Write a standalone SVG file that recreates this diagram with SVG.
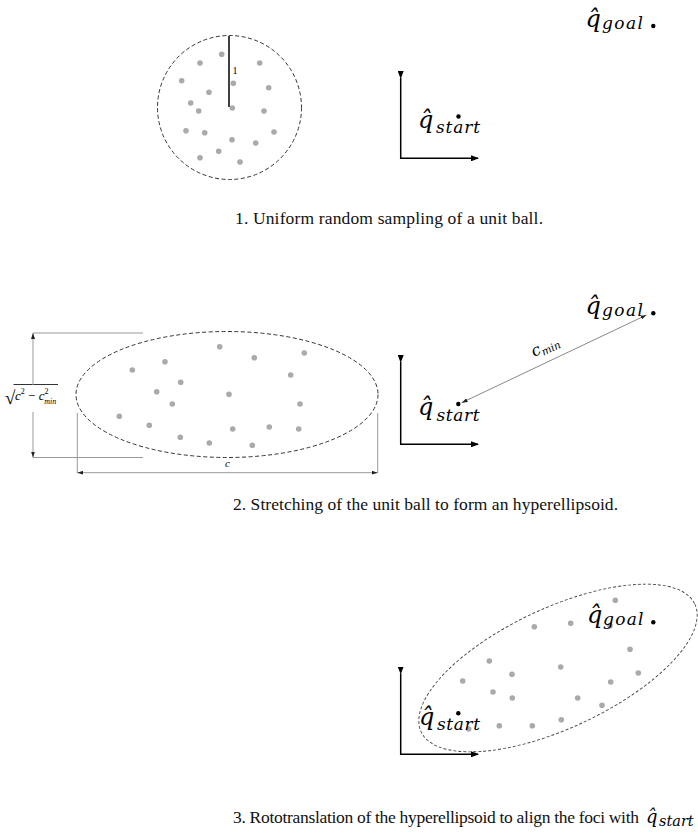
<svg xmlns="http://www.w3.org/2000/svg" width="698" height="833" viewBox="0 0 698 833">
<style>
.dot{fill:#aaaaaa}
.pt{fill:#000}
.bnd{fill:none;stroke:#333;stroke-width:1;stroke-dasharray:4 2.5}
.axis{fill:none;stroke:#000;stroke-width:1.5}
.dim{fill:none;stroke:#999;stroke-width:1}
.cap{font-family:"Liberation Serif",serif;font-size:17.5px;fill:#111}
.m{font-family:"DejaVu Serif",serif;font-style:italic;fill:#000}
.q{font-size:24px}
.s{font-size:17px}
</style>
<defs>
<marker id="ax" viewBox="0 0 8 6" refX="7" refY="3" markerWidth="8" markerHeight="6" markerUnits="userSpaceOnUse" orient="auto"><path d="M0,0 L8,3 L0,6 Z" fill="#000"/></marker>
<marker id="dm" viewBox="0 0 6 4" refX="6" refY="2" markerWidth="6" markerHeight="4" markerUnits="userSpaceOnUse" orient="auto-start-reverse"><path d="M0,0 L6,2 L0,4 Z" fill="#222"/></marker>
</defs>

<g id="panel1">
<g id="unit-ball">
<circle class="bnd" cx="229.5" cy="107.5" r="72"/>
<line x1="229" y1="36" x2="229" y2="107" stroke="#000" stroke-width="1.5"/>
<text x="232.5" y="73.5" font-family="Liberation Serif,serif" font-size="10">1</text>
<circle class="dot" cx="221.7" cy="54.3" r="2.8"/><circle class="dot" cx="200" cy="63" r="2.8"/><circle class="dot" cx="259.7" cy="63" r="2.8"/>
<circle class="dot" cx="181.7" cy="80.7" r="2.8"/><circle class="dot" cx="233.3" cy="83.3" r="2.8"/><circle class="dot" cx="268.7" cy="87.7" r="2.8"/>
<circle class="dot" cx="209" cy="92.3" r="2.8"/><circle class="dot" cx="190.7" cy="103" r="2.8"/><circle class="dot" cx="198.7" cy="111" r="2.8"/>
<circle class="dot" cx="232.3" cy="108" r="2.8"/><circle class="dot" cx="264" cy="111" r="2.8"/><circle class="dot" cx="186" cy="130.7" r="2.8"/>
<circle class="dot" cx="204.7" cy="132.7" r="2.8"/><circle class="dot" cx="274" cy="132" r="2.8"/><circle class="dot" cx="232" cy="139.7" r="2.8"/>
<circle class="dot" cx="255.7" cy="143" r="2.8"/><circle class="dot" cx="218.7" cy="151.3" r="2.8"/><circle class="dot" cx="200" cy="157.7" r="2.8"/>
<circle class="dot" cx="240" cy="162" r="2.8"/>
</g>
<g id="start1"><circle class="pt" cx="458.5" cy="116.5" r="2.2"/><text class="m q" x="418" y="127.5">q̂</text><text class="m s" x="436" y="133" textLength="44" lengthAdjust="spacing">start</text></g>
<g id="goal1"><circle class="pt" cx="653.3" cy="26" r="2.2"/><text class="m q" x="585.5" y="27">q̂</text><text class="m s" x="602" y="29" textLength="41" lengthAdjust="spacing">goal</text></g>
<text id="caption1" class="cap" x="235" y="224" textLength="308" lengthAdjust="spacing">1. Uniform random sampling of a unit ball.</text>
</g>

<g id="panel2">
<g id="hyperellipsoid">
<ellipse class="bnd" cx="227" cy="394.5" rx="151" ry="63"/>
<circle class="dot" cx="132.3" cy="370" r="2.8"/><circle class="dot" cx="165" cy="361.7" r="2.8"/><circle class="dot" cx="180.7" cy="382.3" r="2.8"/>
<circle class="dot" cx="156.7" cy="391.7" r="2.8"/><circle class="dot" cx="172.3" cy="404" r="2.8"/><circle class="dot" cx="119.3" cy="416.3" r="2.8"/>
<circle class="dot" cx="149.3" cy="425.3" r="2.8"/><circle class="dot" cx="180.3" cy="437.3" r="2.8"/><circle class="dot" cx="219.7" cy="346.7" r="2.8"/>
<circle class="dot" cx="254.3" cy="357.7" r="2.8"/><circle class="dot" cx="304.3" cy="353" r="2.8"/><circle class="dot" cx="290.7" cy="375" r="2.8"/>
<circle class="dot" cx="229" cy="394.3" r="2.8"/><circle class="dot" cx="300" cy="404" r="2.8"/><circle class="dot" cx="232.7" cy="429" r="2.8"/>
<circle class="dot" cx="269.3" cy="427" r="2.8"/><circle class="dot" cx="298.7" cy="429" r="2.8"/><circle class="dot" cx="209.3" cy="443" r="2.8"/>
<circle class="dot" cx="252.3" cy="445.3" r="2.8"/>
</g>
<g id="dim-labels">
<text x="5" y="404" font-family="Liberation Serif,serif" font-size="19">√</text>
<line x1="13.5" y1="384.5" x2="58" y2="384.5" stroke="#000" stroke-width="0.8"/>
<text x="15" y="400" font-family="Liberation Serif,serif" font-size="13"><tspan font-style="italic">c</tspan><tspan font-size="8" dy="-6">2</tspan><tspan dy="6"> − </tspan><tspan font-style="italic">c</tspan><tspan font-size="8" dy="-6">2</tspan><tspan font-size="8" font-style="italic" dx="-4.2" dy="10">min</tspan></text>
<text x="225" y="467" font-family="Liberation Serif,serif" font-size="11" font-style="italic">c</text>
<text class="m" x="534" y="357" transform="rotate(-25.4 534 357)" font-size="16">c<tspan font-size="10.5" dy="3">min</tspan></text>
</g>
<g id="start2"><circle class="pt" cx="458.3" cy="404" r="2.2"/><text class="m q" x="418" y="414.5">q̂</text><text class="m s" x="436.5" y="420.5" textLength="43" lengthAdjust="spacing">start</text></g>
<g id="goal2"><circle class="pt" cx="653.3" cy="313.3" r="2.2"/><text class="m q" x="585.5" y="314">q̂</text><text class="m s" x="602" y="315.5" textLength="41" lengthAdjust="spacing">goal</text></g>
<text id="caption2" class="cap" x="233" y="510" textLength="385" lengthAdjust="spacing">2. Stretching of the unit ball to form an hyperellipsoid.</text>
</g>

<g id="panel3">
<g id="rotated-ellipsoid">
<ellipse cx="558" cy="668" rx="151" ry="60" transform="rotate(-25 558 668)" fill="none" stroke="#444" stroke-width="0.9" stroke-dasharray="3 2"/>
<circle class="dot" cx="615.3" cy="600.3" r="2.8"/><circle class="dot" cx="534.3" cy="626.7" r="2.8"/><circle class="dot" cx="570.7" cy="623.3" r="2.8"/>
<circle class="dot" cx="610" cy="625.7" r="2.8"/><circle class="dot" cx="630" cy="649.3" r="2.8"/><circle class="dot" cx="489.3" cy="661" r="2.8"/>
<circle class="dot" cx="560.7" cy="667" r="2.8"/><circle class="dot" cx="512" cy="674.3" r="2.8"/><circle class="dot" cx="638.3" cy="673" r="2.8"/>
<circle class="dot" cx="462.7" cy="681" r="2.8"/><circle class="dot" cx="610.7" cy="682" r="2.8"/><circle class="dot" cx="493" cy="692" r="2.8"/>
<circle class="dot" cx="512.3" cy="698" r="2.8"/><circle class="dot" cx="577.7" cy="698" r="2.8"/><circle class="dot" cx="602" cy="705.3" r="2.8"/>
<circle class="dot" cx="561.3" cy="719.7" r="2.8"/><circle class="dot" cx="499.3" cy="725.7" r="2.8"/><circle class="dot" cx="532.3" cy="725.7" r="2.8"/>
<circle class="dot" cx="468.7" cy="729" r="2.8"/>
</g>
<g id="start3"><circle class="pt" cx="458.3" cy="713.3" r="2.2"/><text class="m q" x="419" y="724.5">q̂</text><text class="m s" x="437" y="730" textLength="43" lengthAdjust="spacing">start</text></g>
<g id="goal3"><circle class="pt" cx="653.3" cy="622.3" r="2.2"/><text class="m q" x="587" y="623">q̂</text><text class="m s" x="603" y="625" textLength="40.5" lengthAdjust="spacing">goal</text></g>
<g id="caption3">
<text class="cap" x="233" y="823" textLength="406" lengthAdjust="spacing">3. Rototranslation of the hyperellipsoid to align the foci with</text>
<text class="m" x="646" y="823" font-size="18">q̂</text>
<text class="m" x="659" y="826" font-size="14.5">start</text>
</g>
</g>

<g id="connectors">
<polyline class="axis" points="400.7,78 400.7,158.3 478,158.3" marker-start="url(#ax)" marker-end="url(#ax)"/>
<polyline class="axis" points="400.7,362 400.7,444.3 478,444.3" marker-start="url(#ax)" marker-end="url(#ax)"/>
<polyline class="axis" points="400.7,673.5 400.7,754.3 478,754.3" marker-start="url(#ax)" marker-end="url(#ax)"/>
<line x1="646.5" y1="315" x2="461.7" y2="402.7" stroke="#888" stroke-width="1" marker-start="url(#dm)" marker-end="url(#dm)"/>
<line class="dim" x1="33" y1="333" x2="143" y2="333"/>
<line class="dim" x1="33" y1="457.5" x2="143" y2="457.5"/>
<line class="dim" x1="33" y1="385" x2="33" y2="333" marker-end="url(#dm)"/>
<line class="dim" x1="33" y1="412" x2="33" y2="457.5" marker-end="url(#dm)"/>
<line class="dim" x1="77.3" y1="413" x2="77.3" y2="473"/>
<line class="dim" x1="377.7" y1="413" x2="377.7" y2="473"/>
<line class="dim" x1="77.3" y1="472.7" x2="377.7" y2="472.7" marker-start="url(#dm)" marker-end="url(#dm)"/>
</g>
</svg>
